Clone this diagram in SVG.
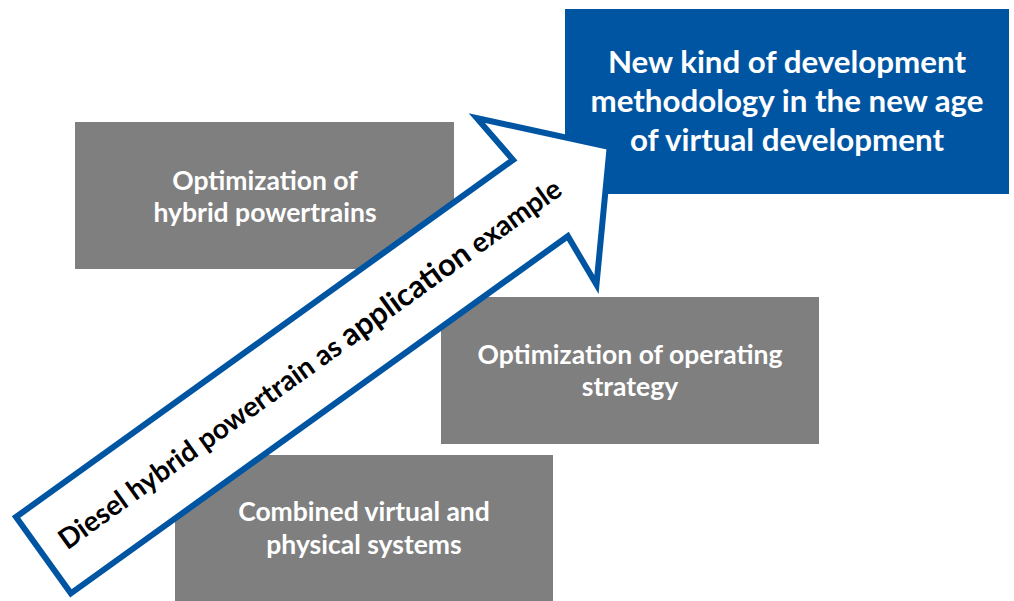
<svg xmlns="http://www.w3.org/2000/svg" width="1014" height="601" viewBox="0 0 1014 601">
<style>
.gbox{fill:#7f7f7f}
.bbox{fill:#0055a2}
.lbl{font-family:Lato,"Open Sans","Liberation Sans",sans-serif;font-weight:bold;fill:#ffffff;text-anchor:middle}
.g{font-size:26.5px}
.b{font-size:31.3px}
.arrow{fill:#ffffff;stroke:#0055a2;stroke-width:6;stroke-linejoin:miter}
.atxt{font-family:Lato,"Open Sans","Liberation Sans",sans-serif;font-weight:bold;fill:#000000;font-size:28px}
</style>
<rect width="1014" height="601" fill="#ffffff"/>
<g id="node-hybrid">
<rect class="gbox" x="75" y="122" width="379" height="147"/>
<text class="lbl g" x="265" y="190">Optimization of</text>
<text class="lbl g" x="265" y="222">hybrid powertrains</text>
</g>
<g id="node-strategy">
<rect class="gbox" x="441" y="297" width="378" height="147"/>
<text class="lbl g" x="630" y="364">Optimization of operating</text>
<text class="lbl g" x="630" y="396">strategy</text>
</g>
<g id="node-combined">
<rect class="gbox" x="175" y="455" width="378" height="146"/>
<text class="lbl g" x="364" y="521">Combined virtual and</text>
<text class="lbl g" x="364" y="554">physical systems</text>
</g>
<g id="node-methodology">
<rect class="bbox" x="565" y="9" width="444" height="185"/>
<text class="lbl b" x="787" y="73">New kind of development</text>
<text class="lbl b" x="787" y="112">methodology in the new age</text>
<text class="lbl b" x="787" y="151">of virtual development</text>
</g>
<g id="connectors">
<g id="arrow" transform="translate(16,517) rotate(-35.7)">
<polygon class="arrow" points="0,0 612,0 607,-55 698,46 607,150 612,94 0,94"/>
<text class="atxt" x="22" y="57">Diesel hybrid powertrain as <tspan font-size="31px">application</tspan> example</text>
</g>
</g>
</svg>
